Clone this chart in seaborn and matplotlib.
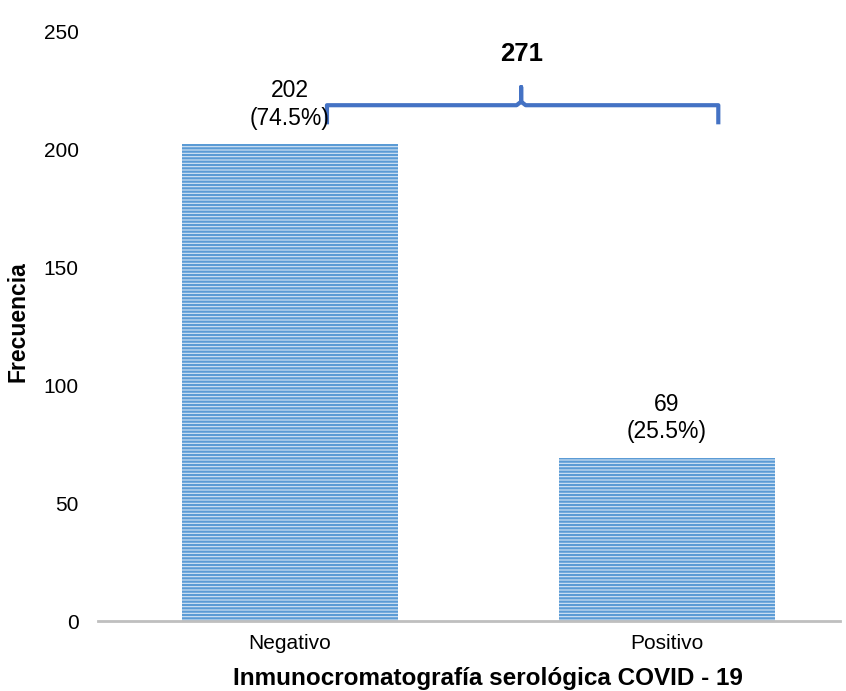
import matplotlib
matplotlib.use("Agg")
import matplotlib.pyplot as plt
import seaborn as sns
import pandas as pd

# data
categorias = ["Negativo", "Positivo"]
frecuencias = [202, 69]
porcentajes = ["74.5%", "25.5%"]
total = 271

sns.set_style("white")
plt.rcParams['font.family'] = ['Liberation Sans', 'DejaVu Sans']
plt.rcParams['text.color'] = 'black'
plt.rcParams['hatch.linewidth'] = 1.6
plt.rcParams['hatch.color'] = '#5B9BD5'

df = pd.DataFrame({'cat': categorias, 'n': frecuencias})

fig = plt.figure(figsize=(8.46, 6.91), dpi=100)
ax = fig.add_axes([0.116, 0.101, 0.877, 0.854])

sns.barplot(data=df, x='cat', y='n', ax=ax, width=0.573, color='#D6E6F5',
            saturation=1, linewidth=0)
for p in ax.patches:
    p.set_hatch('-' * 5)
    p.set_edgecolor('#5B9BD5')
    p.set_linewidth(0)

# value labels above bars
for i, (v, pc) in enumerate(zip(frecuencias, porcentajes)):
    ax.text(i, v + 6.3, f"{v}\n({pc})", ha='center', va='bottom', fontsize=16.5,
            linespacing=1.27, color='black')

# brace over both bars with the total
bx0, bx1, bxm = 0.098, 1.136, 0.613
by, bend, btop = 218.6, 210.5, 226.3
ax.plot([bx0, bx0, bxm - 0.012, bxm, bxm, bxm, bxm + 0.012, bx1, bx1],
        [bend, by, by, by + 1.5, btop, by + 1.5, by, by, bend],
        color='#4472C4', lw=3, solid_joinstyle='round', solid_capstyle='butt',
        clip_on=False)
ax.text(bxm, 240.5, str(total), ha='center', va='center', fontsize=18.5,
        fontweight='bold', color='black')

ax.set_xlim(-0.509, 1.459)
ax.set_ylim(0, 250)
ax.set_yticks([0, 50, 100, 150, 200, 250])
ax.tick_params(axis='both', length=0, labelsize=15, labelcolor='black')
ax.tick_params(axis='x', pad=9)
ax.tick_params(axis='y', pad=14)

for s in ['top', 'right', 'left']:
    ax.spines[s].set_visible(False)
ax.spines['bottom'].set_color('#BFBFBF')
ax.spines['bottom'].set_linewidth(2)

ax.set_xlabel('Inmunocromatografía serológica COVID - 19', fontsize=17.5,
              fontweight='bold', color='black', va='baseline')
ax.xaxis.set_label_coords(0.526, -0.1085)
ax.set_ylabel('Frecuencia', fontsize=16.5, fontweight='bold', color='black',
              va='center')
ax.yaxis.set_label_coords(-0.108, 0.508)

fig.savefig('out.png', dpi=100)
